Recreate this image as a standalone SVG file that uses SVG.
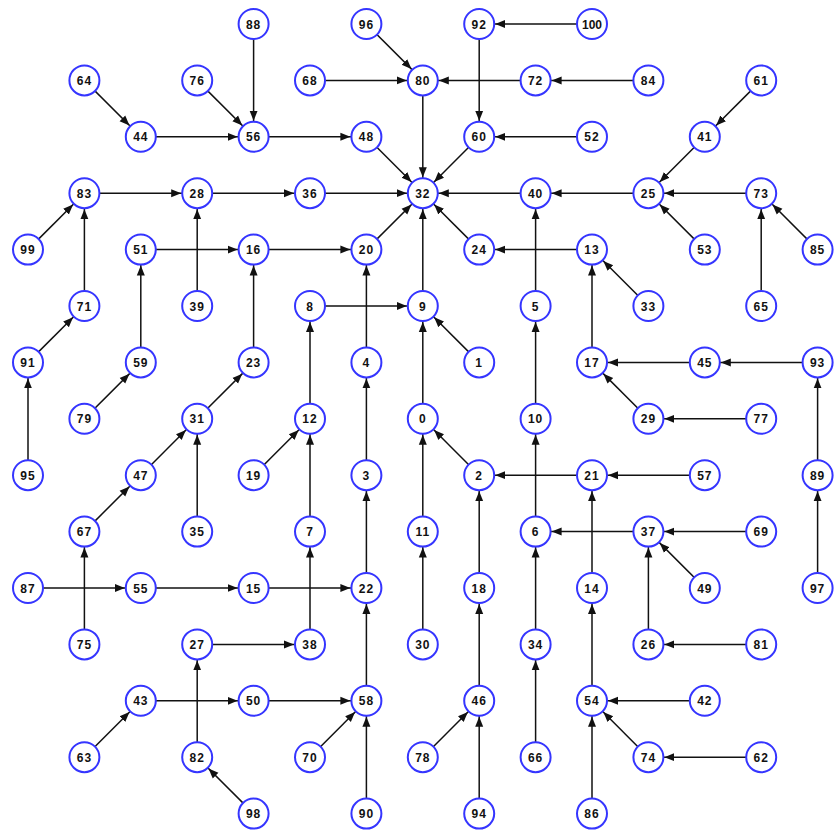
<svg xmlns="http://www.w3.org/2000/svg" width="834" height="834" viewBox="0 0 834 834">
<style>
.e{stroke:#111;stroke-width:1.5;fill:none;marker-end:url(#ah)}
.node circle{fill:#fff;stroke:#3535ff;stroke-width:2}
.node text{font-family:"Liberation Sans",Arial,sans-serif;font-weight:bold;font-size:12px;letter-spacing:1px;text-anchor:middle;fill:#111}
</style>
<defs>
<marker id="ah" markerUnits="userSpaceOnUse" viewBox="0 0 26 10" markerWidth="26" markerHeight="10" refX="26" refY="5" orient="auto">
<path d="M0,1 L10,5 L0,9 z" fill="#111"/>
</marker>
</defs>
<rect width="834" height="834" fill="#fff"/>
<g id="connectors">
<line class="e" x1="253.6" y1="24" x2="253.6" y2="136.8"/>
<line class="e" x1="84.4" y1="80.4" x2="140.8" y2="136.8"/>
<line class="e" x1="197.2" y1="80.4" x2="253.6" y2="136.8"/>
<line class="e" x1="140.8" y1="136.8" x2="253.6" y2="136.8"/>
<line class="e" x1="253.6" y1="136.8" x2="366.4" y2="136.8"/>
<line class="e" x1="366.4" y1="24" x2="422.8" y2="80.4"/>
<line class="e" x1="310" y1="80.4" x2="422.8" y2="80.4"/>
<line class="e" x1="535.6" y1="80.4" x2="422.8" y2="80.4"/>
<line class="e" x1="648.4" y1="80.4" x2="535.6" y2="80.4"/>
<line class="e" x1="479.2" y1="24" x2="479.2" y2="136.8"/>
<line class="e" x1="592" y1="24" x2="479.2" y2="24"/>
<line class="e" x1="422.8" y1="80.4" x2="422.8" y2="193.2"/>
<line class="e" x1="366.4" y1="136.8" x2="422.8" y2="193.2"/>
<line class="e" x1="479.2" y1="136.8" x2="422.8" y2="193.2"/>
<line class="e" x1="592" y1="136.8" x2="479.2" y2="136.8"/>
<line class="e" x1="761.2" y1="80.4" x2="704.8" y2="136.8"/>
<line class="e" x1="704.8" y1="136.8" x2="648.4" y2="193.2"/>
<line class="e" x1="761.2" y1="193.2" x2="648.4" y2="193.2"/>
<line class="e" x1="648.4" y1="193.2" x2="535.6" y2="193.2"/>
<line class="e" x1="704.8" y1="249.6" x2="648.4" y2="193.2"/>
<line class="e" x1="817.6" y1="249.6" x2="761.2" y2="193.2"/>
<line class="e" x1="761.2" y1="306" x2="761.2" y2="193.2"/>
<line class="e" x1="535.6" y1="193.2" x2="422.8" y2="193.2"/>
<line class="e" x1="310" y1="193.2" x2="422.8" y2="193.2"/>
<line class="e" x1="197.2" y1="193.2" x2="310" y2="193.2"/>
<line class="e" x1="84.4" y1="193.2" x2="197.2" y2="193.2"/>
<line class="e" x1="28" y1="249.6" x2="84.4" y2="193.2"/>
<line class="e" x1="84.4" y1="306" x2="84.4" y2="193.2"/>
<line class="e" x1="28" y1="362.4" x2="84.4" y2="306"/>
<line class="e" x1="28" y1="475.2" x2="28" y2="362.4"/>
<line class="e" x1="140.8" y1="249.6" x2="253.6" y2="249.6"/>
<line class="e" x1="140.8" y1="362.4" x2="140.8" y2="249.6"/>
<line class="e" x1="84.4" y1="418.8" x2="140.8" y2="362.4"/>
<line class="e" x1="197.2" y1="306" x2="197.2" y2="193.2"/>
<line class="e" x1="253.6" y1="249.6" x2="366.4" y2="249.6"/>
<line class="e" x1="253.6" y1="362.4" x2="253.6" y2="249.6"/>
<line class="e" x1="197.2" y1="418.8" x2="253.6" y2="362.4"/>
<line class="e" x1="140.8" y1="475.2" x2="197.2" y2="418.8"/>
<line class="e" x1="84.4" y1="531.6" x2="140.8" y2="475.2"/>
<line class="e" x1="84.4" y1="644.4" x2="84.4" y2="531.6"/>
<line class="e" x1="197.2" y1="531.6" x2="197.2" y2="418.8"/>
<line class="e" x1="366.4" y1="249.6" x2="422.8" y2="193.2"/>
<line class="e" x1="366.4" y1="362.4" x2="366.4" y2="249.6"/>
<line class="e" x1="366.4" y1="475.2" x2="366.4" y2="362.4"/>
<line class="e" x1="366.4" y1="588" x2="366.4" y2="475.2"/>
<line class="e" x1="366.4" y1="700.8" x2="366.4" y2="588"/>
<line class="e" x1="366.4" y1="813.6" x2="366.4" y2="700.8"/>
<line class="e" x1="310" y1="757.2" x2="366.4" y2="700.8"/>
<line class="e" x1="253.6" y1="700.8" x2="366.4" y2="700.8"/>
<line class="e" x1="140.8" y1="700.8" x2="253.6" y2="700.8"/>
<line class="e" x1="84.4" y1="757.2" x2="140.8" y2="700.8"/>
<line class="e" x1="197.2" y1="644.4" x2="310" y2="644.4"/>
<line class="e" x1="197.2" y1="757.2" x2="197.2" y2="644.4"/>
<line class="e" x1="253.6" y1="813.6" x2="197.2" y2="757.2"/>
<line class="e" x1="28" y1="588" x2="140.8" y2="588"/>
<line class="e" x1="140.8" y1="588" x2="253.6" y2="588"/>
<line class="e" x1="253.6" y1="588" x2="366.4" y2="588"/>
<line class="e" x1="310" y1="644.4" x2="310" y2="531.6"/>
<line class="e" x1="310" y1="531.6" x2="310" y2="418.8"/>
<line class="e" x1="253.6" y1="475.2" x2="310" y2="418.8"/>
<line class="e" x1="310" y1="418.8" x2="310" y2="306"/>
<line class="e" x1="310" y1="306" x2="422.8" y2="306"/>
<line class="e" x1="422.8" y1="306" x2="422.8" y2="193.2"/>
<line class="e" x1="479.2" y1="362.4" x2="422.8" y2="306"/>
<line class="e" x1="422.8" y1="418.8" x2="422.8" y2="306"/>
<line class="e" x1="422.8" y1="531.6" x2="422.8" y2="418.8"/>
<line class="e" x1="422.8" y1="644.4" x2="422.8" y2="531.6"/>
<line class="e" x1="479.2" y1="475.2" x2="422.8" y2="418.8"/>
<line class="e" x1="479.2" y1="588" x2="479.2" y2="475.2"/>
<line class="e" x1="479.2" y1="700.8" x2="479.2" y2="588"/>
<line class="e" x1="422.8" y1="757.2" x2="479.2" y2="700.8"/>
<line class="e" x1="479.2" y1="813.6" x2="479.2" y2="700.8"/>
<line class="e" x1="592" y1="475.2" x2="479.2" y2="475.2"/>
<line class="e" x1="704.8" y1="475.2" x2="592" y2="475.2"/>
<line class="e" x1="592" y1="588" x2="592" y2="475.2"/>
<line class="e" x1="592" y1="700.8" x2="592" y2="588"/>
<line class="e" x1="704.8" y1="700.8" x2="592" y2="700.8"/>
<line class="e" x1="648.4" y1="757.2" x2="592" y2="700.8"/>
<line class="e" x1="761.2" y1="757.2" x2="648.4" y2="757.2"/>
<line class="e" x1="592" y1="813.6" x2="592" y2="700.8"/>
<line class="e" x1="535.6" y1="531.6" x2="535.6" y2="418.8"/>
<line class="e" x1="535.6" y1="418.8" x2="535.6" y2="306"/>
<line class="e" x1="535.6" y1="306" x2="535.6" y2="193.2"/>
<line class="e" x1="535.6" y1="644.4" x2="535.6" y2="531.6"/>
<line class="e" x1="535.6" y1="757.2" x2="535.6" y2="644.4"/>
<line class="e" x1="648.4" y1="531.6" x2="535.6" y2="531.6"/>
<line class="e" x1="761.2" y1="531.6" x2="648.4" y2="531.6"/>
<line class="e" x1="704.8" y1="588" x2="648.4" y2="531.6"/>
<line class="e" x1="648.4" y1="644.4" x2="648.4" y2="531.6"/>
<line class="e" x1="761.2" y1="644.4" x2="648.4" y2="644.4"/>
<line class="e" x1="479.2" y1="249.6" x2="422.8" y2="193.2"/>
<line class="e" x1="592" y1="249.6" x2="479.2" y2="249.6"/>
<line class="e" x1="648.4" y1="306" x2="592" y2="249.6"/>
<line class="e" x1="592" y1="362.4" x2="592" y2="249.6"/>
<line class="e" x1="704.8" y1="362.4" x2="592" y2="362.4"/>
<line class="e" x1="817.6" y1="362.4" x2="704.8" y2="362.4"/>
<line class="e" x1="817.6" y1="475.2" x2="817.6" y2="362.4"/>
<line class="e" x1="817.6" y1="588" x2="817.6" y2="475.2"/>
<line class="e" x1="648.4" y1="418.8" x2="592" y2="362.4"/>
<line class="e" x1="761.2" y1="418.8" x2="648.4" y2="418.8"/>
</g>
<g id="nodes">
<g id="n0" class="node" transform="translate(422.8,418.8)"><circle r="15"/><text y="4.5">0</text></g>
<g id="n1" class="node" transform="translate(479.2,362.4)"><circle r="15"/><text y="4.5">1</text></g>
<g id="n2" class="node" transform="translate(479.2,475.2)"><circle r="15"/><text y="4.5">2</text></g>
<g id="n3" class="node" transform="translate(366.4,475.2)"><circle r="15"/><text y="4.5">3</text></g>
<g id="n4" class="node" transform="translate(366.4,362.4)"><circle r="15"/><text y="4.5">4</text></g>
<g id="n5" class="node" transform="translate(535.6,306)"><circle r="15"/><text y="4.5">5</text></g>
<g id="n6" class="node" transform="translate(535.6,531.6)"><circle r="15"/><text y="4.5">6</text></g>
<g id="n7" class="node" transform="translate(310,531.6)"><circle r="15"/><text y="4.5">7</text></g>
<g id="n8" class="node" transform="translate(310,306)"><circle r="15"/><text y="4.5">8</text></g>
<g id="n9" class="node" transform="translate(422.8,306)"><circle r="15"/><text y="4.5">9</text></g>
<g id="n10" class="node" transform="translate(535.6,418.8)"><circle r="15"/><text y="4.5">10</text></g>
<g id="n11" class="node" transform="translate(422.8,531.6)"><circle r="15"/><text y="4.5">11</text></g>
<g id="n12" class="node" transform="translate(310,418.8)"><circle r="15"/><text y="4.5">12</text></g>
<g id="n13" class="node" transform="translate(592,249.6)"><circle r="15"/><text y="4.5">13</text></g>
<g id="n14" class="node" transform="translate(592,588)"><circle r="15"/><text y="4.5">14</text></g>
<g id="n15" class="node" transform="translate(253.6,588)"><circle r="15"/><text y="4.5">15</text></g>
<g id="n16" class="node" transform="translate(253.6,249.6)"><circle r="15"/><text y="4.5">16</text></g>
<g id="n17" class="node" transform="translate(592,362.4)"><circle r="15"/><text y="4.5">17</text></g>
<g id="n18" class="node" transform="translate(479.2,588)"><circle r="15"/><text y="4.5">18</text></g>
<g id="n19" class="node" transform="translate(253.6,475.2)"><circle r="15"/><text y="4.5">19</text></g>
<g id="n20" class="node" transform="translate(366.4,249.6)"><circle r="15"/><text y="4.5">20</text></g>
<g id="n21" class="node" transform="translate(592,475.2)"><circle r="15"/><text y="4.5">21</text></g>
<g id="n22" class="node" transform="translate(366.4,588)"><circle r="15"/><text y="4.5">22</text></g>
<g id="n23" class="node" transform="translate(253.6,362.4)"><circle r="15"/><text y="4.5">23</text></g>
<g id="n24" class="node" transform="translate(479.2,249.6)"><circle r="15"/><text y="4.5">24</text></g>
<g id="n25" class="node" transform="translate(648.4,193.2)"><circle r="15"/><text y="4.5">25</text></g>
<g id="n26" class="node" transform="translate(648.4,644.4)"><circle r="15"/><text y="4.5">26</text></g>
<g id="n27" class="node" transform="translate(197.2,644.4)"><circle r="15"/><text y="4.5">27</text></g>
<g id="n28" class="node" transform="translate(197.2,193.2)"><circle r="15"/><text y="4.5">28</text></g>
<g id="n29" class="node" transform="translate(648.4,418.8)"><circle r="15"/><text y="4.5">29</text></g>
<g id="n30" class="node" transform="translate(422.8,644.4)"><circle r="15"/><text y="4.5">30</text></g>
<g id="n31" class="node" transform="translate(197.2,418.8)"><circle r="15"/><text y="4.5">31</text></g>
<g id="n32" class="node" transform="translate(422.8,193.2)"><circle r="15"/><text y="4.5">32</text></g>
<g id="n33" class="node" transform="translate(648.4,306)"><circle r="15"/><text y="4.5">33</text></g>
<g id="n34" class="node" transform="translate(535.6,644.4)"><circle r="15"/><text y="4.5">34</text></g>
<g id="n35" class="node" transform="translate(197.2,531.6)"><circle r="15"/><text y="4.5">35</text></g>
<g id="n36" class="node" transform="translate(310,193.2)"><circle r="15"/><text y="4.5">36</text></g>
<g id="n37" class="node" transform="translate(648.4,531.6)"><circle r="15"/><text y="4.5">37</text></g>
<g id="n38" class="node" transform="translate(310,644.4)"><circle r="15"/><text y="4.5">38</text></g>
<g id="n39" class="node" transform="translate(197.2,306)"><circle r="15"/><text y="4.5">39</text></g>
<g id="n40" class="node" transform="translate(535.6,193.2)"><circle r="15"/><text y="4.5">40</text></g>
<g id="n41" class="node" transform="translate(704.8,136.8)"><circle r="15"/><text y="4.5">41</text></g>
<g id="n42" class="node" transform="translate(704.8,700.8)"><circle r="15"/><text y="4.5">42</text></g>
<g id="n43" class="node" transform="translate(140.8,700.8)"><circle r="15"/><text y="4.5">43</text></g>
<g id="n44" class="node" transform="translate(140.8,136.8)"><circle r="15"/><text y="4.5">44</text></g>
<g id="n45" class="node" transform="translate(704.8,362.4)"><circle r="15"/><text y="4.5">45</text></g>
<g id="n46" class="node" transform="translate(479.2,700.8)"><circle r="15"/><text y="4.5">46</text></g>
<g id="n47" class="node" transform="translate(140.8,475.2)"><circle r="15"/><text y="4.5">47</text></g>
<g id="n48" class="node" transform="translate(366.4,136.8)"><circle r="15"/><text y="4.5">48</text></g>
<g id="n49" class="node" transform="translate(704.8,588)"><circle r="15"/><text y="4.5">49</text></g>
<g id="n50" class="node" transform="translate(253.6,700.8)"><circle r="15"/><text y="4.5">50</text></g>
<g id="n51" class="node" transform="translate(140.8,249.6)"><circle r="15"/><text y="4.5">51</text></g>
<g id="n52" class="node" transform="translate(592,136.8)"><circle r="15"/><text y="4.5">52</text></g>
<g id="n53" class="node" transform="translate(704.8,249.6)"><circle r="15"/><text y="4.5">53</text></g>
<g id="n54" class="node" transform="translate(592,700.8)"><circle r="15"/><text y="4.5">54</text></g>
<g id="n55" class="node" transform="translate(140.8,588)"><circle r="15"/><text y="4.5">55</text></g>
<g id="n56" class="node" transform="translate(253.6,136.8)"><circle r="15"/><text y="4.5">56</text></g>
<g id="n57" class="node" transform="translate(704.8,475.2)"><circle r="15"/><text y="4.5">57</text></g>
<g id="n58" class="node" transform="translate(366.4,700.8)"><circle r="15"/><text y="4.5">58</text></g>
<g id="n59" class="node" transform="translate(140.8,362.4)"><circle r="15"/><text y="4.5">59</text></g>
<g id="n60" class="node" transform="translate(479.2,136.8)"><circle r="15"/><text y="4.5">60</text></g>
<g id="n61" class="node" transform="translate(761.2,80.4)"><circle r="15"/><text y="4.5">61</text></g>
<g id="n62" class="node" transform="translate(761.2,757.2)"><circle r="15"/><text y="4.5">62</text></g>
<g id="n63" class="node" transform="translate(84.4,757.2)"><circle r="15"/><text y="4.5">63</text></g>
<g id="n64" class="node" transform="translate(84.4,80.4)"><circle r="15"/><text y="4.5">64</text></g>
<g id="n65" class="node" transform="translate(761.2,306)"><circle r="15"/><text y="4.5">65</text></g>
<g id="n66" class="node" transform="translate(535.6,757.2)"><circle r="15"/><text y="4.5">66</text></g>
<g id="n67" class="node" transform="translate(84.4,531.6)"><circle r="15"/><text y="4.5">67</text></g>
<g id="n68" class="node" transform="translate(310,80.4)"><circle r="15"/><text y="4.5">68</text></g>
<g id="n69" class="node" transform="translate(761.2,531.6)"><circle r="15"/><text y="4.5">69</text></g>
<g id="n70" class="node" transform="translate(310,757.2)"><circle r="15"/><text y="4.5">70</text></g>
<g id="n71" class="node" transform="translate(84.4,306)"><circle r="15"/><text y="4.5">71</text></g>
<g id="n72" class="node" transform="translate(535.6,80.4)"><circle r="15"/><text y="4.5">72</text></g>
<g id="n73" class="node" transform="translate(761.2,193.2)"><circle r="15"/><text y="4.5">73</text></g>
<g id="n74" class="node" transform="translate(648.4,757.2)"><circle r="15"/><text y="4.5">74</text></g>
<g id="n75" class="node" transform="translate(84.4,644.4)"><circle r="15"/><text y="4.5">75</text></g>
<g id="n76" class="node" transform="translate(197.2,80.4)"><circle r="15"/><text y="4.5">76</text></g>
<g id="n77" class="node" transform="translate(761.2,418.8)"><circle r="15"/><text y="4.5">77</text></g>
<g id="n78" class="node" transform="translate(422.8,757.2)"><circle r="15"/><text y="4.5">78</text></g>
<g id="n79" class="node" transform="translate(84.4,418.8)"><circle r="15"/><text y="4.5">79</text></g>
<g id="n80" class="node" transform="translate(422.8,80.4)"><circle r="15"/><text y="4.5">80</text></g>
<g id="n81" class="node" transform="translate(761.2,644.4)"><circle r="15"/><text y="4.5">81</text></g>
<g id="n82" class="node" transform="translate(197.2,757.2)"><circle r="15"/><text y="4.5">82</text></g>
<g id="n83" class="node" transform="translate(84.4,193.2)"><circle r="15"/><text y="4.5">83</text></g>
<g id="n84" class="node" transform="translate(648.4,80.4)"><circle r="15"/><text y="4.5">84</text></g>
<g id="n85" class="node" transform="translate(817.6,249.6)"><circle r="15"/><text y="4.5">85</text></g>
<g id="n86" class="node" transform="translate(592,813.6)"><circle r="15"/><text y="4.5">86</text></g>
<g id="n87" class="node" transform="translate(28,588)"><circle r="15"/><text y="4.5">87</text></g>
<g id="n88" class="node" transform="translate(253.6,24)"><circle r="15"/><text y="4.5">88</text></g>
<g id="n89" class="node" transform="translate(817.6,475.2)"><circle r="15"/><text y="4.5">89</text></g>
<g id="n90" class="node" transform="translate(366.4,813.6)"><circle r="15"/><text y="4.5">90</text></g>
<g id="n91" class="node" transform="translate(28,362.4)"><circle r="15"/><text y="4.5">91</text></g>
<g id="n92" class="node" transform="translate(479.2,24)"><circle r="15"/><text y="4.5">92</text></g>
<g id="n93" class="node" transform="translate(817.6,362.4)"><circle r="15"/><text y="4.5">93</text></g>
<g id="n94" class="node" transform="translate(479.2,813.6)"><circle r="15"/><text y="4.5">94</text></g>
<g id="n95" class="node" transform="translate(28,475.2)"><circle r="15"/><text y="4.5">95</text></g>
<g id="n96" class="node" transform="translate(366.4,24)"><circle r="15"/><text y="4.5">96</text></g>
<g id="n97" class="node" transform="translate(817.6,588)"><circle r="15"/><text y="4.5">97</text></g>
<g id="n98" class="node" transform="translate(253.6,813.6)"><circle r="15"/><text y="4.5">98</text></g>
<g id="n99" class="node" transform="translate(28,249.6)"><circle r="15"/><text y="4.5">99</text></g>
<g id="n100" class="node" transform="translate(592,24)"><circle r="15"/><text y="4.5" style="letter-spacing:0">100</text></g>
</g>
</svg>
